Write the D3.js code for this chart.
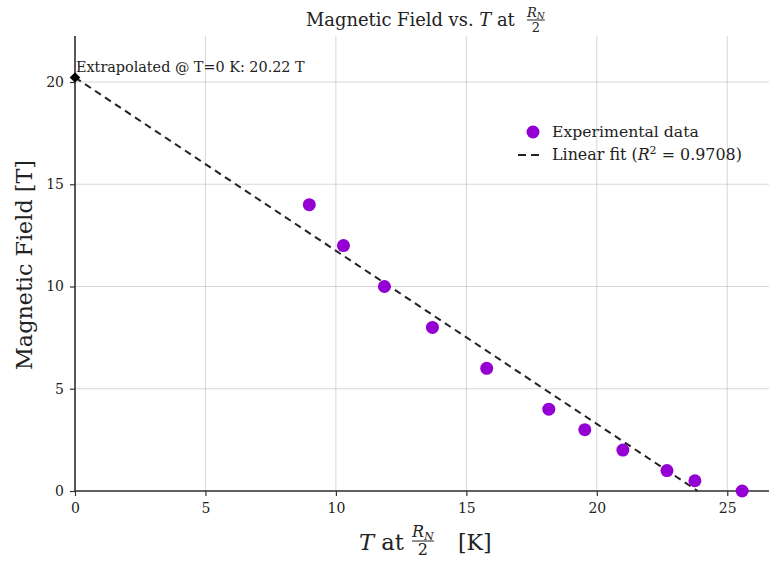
<!DOCTYPE html>
<html lang="en">
<head>
<meta charset="utf-8">
<title>Magnetic Field vs T</title>
<script src="https://cdn.jsdelivr.net/npm/d3@7"></script>
<style>
  body { margin: 0; background: #fff; }
  text { font-family: "DejaVu Serif", "Liberation Serif", serif; fill: #222; }
</style>
</head>
<body>
<script>
// measured data
var tempK = [8.98, 10.29, 11.86, 13.7, 15.78, 18.16, 19.54, 21.0, 22.69, 23.76, 25.57];
var fieldT = [14, 12, 10, 8, 6, 4, 3, 2, 1, 0.5, 0];
var xTicks = [0, 5, 10, 15, 20, 25];
var yTicks = [0, 5, 10, 15, 20];
var fitIntercept = 20.22;
var fitZero = 23.87;   // T where the fit line reaches 0
var fitR2 = "0.9708";

var width = 770, height = 563;
var margin = {top: 36, right: 1, bottom: 72, left: 75};

var svg = d3.select("body").append("svg")
    .attr("width", width)
    .attr("height", height);

var x = d3.scaleLinear().domain([0, 26.6]).range([margin.left, width - margin.right]);
var y = d3.scaleLinear().domain([0, 22.25]).range([height - margin.bottom, margin.top]);

// squeeze/stretch a text element to a measured width
function fitWidth(t, w) {
  var cur = t.node().getComputedTextLength();
  var fs = parseFloat(t.attr("font-size"));
  t.attr("font-size", fs * w / cur);
  return t;
}

// grid
svg.append("g").selectAll("line")
    .data(xTicks).enter().append("line")
    .attr("x1", d => x(d)).attr("x2", d => x(d))
    .attr("y1", y(0)).attr("y2", margin.top)
    .attr("stroke", "#b0b0b0").attr("stroke-opacity", 0.5).attr("stroke-width", 1);
svg.append("g").selectAll("line")
    .data(yTicks).enter().append("line")
    .attr("x1", x(0)).attr("x2", width - margin.right)
    .attr("y1", d => y(d)).attr("y2", d => y(d))
    .attr("stroke", "#b0b0b0").attr("stroke-opacity", 0.5).attr("stroke-width", 1);

// axes
var xAxis = svg.append("g")
    .attr("transform", "translate(0," + y(0) + ")")
    .call(d3.axisBottom(x).tickValues(xTicks).tickSize(5).tickPadding(7));
var yAxis = svg.append("g")
    .attr("transform", "translate(" + x(0) + ",0)")
    .call(d3.axisLeft(y).tickValues(yTicks).tickSize(5).tickPadding(6));
[xAxis, yAxis].forEach(function (a) {
  a.select(".domain").attr("stroke", "#333").attr("stroke-width", 1.6);
  a.selectAll(".tick line").attr("stroke", "#333").attr("stroke-width", 1.2);
  a.selectAll(".tick text").attr("font-size", 14).attr("fill", "#222")
    .style("font-family", '"DejaVu Serif", serif');
});
xAxis.select(".domain").attr("d", "M" + x(0) + ",0H" + (width - margin.right));
yAxis.select(".domain").attr("d", "M0," + y(0) + "V" + margin.top);

// fit line
svg.append("line")
    .attr("x1", x(0)).attr("y1", y(fitIntercept))
    .attr("x2", x(fitZero)).attr("y2", y(0))
    .attr("stroke", "#222").attr("stroke-width", 2)
    .attr("stroke-dasharray", "7,5");

// data points
svg.append("g").selectAll("circle")
    .data(tempK).enter().append("circle")
    .attr("cx", d => x(d))
    .attr("cy", (d, i) => y(fieldT[i]))
    .attr("r", 6.5)
    .attr("fill", "#9400d3");

// extrapolated marker
svg.append("path")
    .attr("d", d3.symbol(d3.symbolSquare, 56))
    .attr("transform", "translate(" + x(0) + "," + y(fitIntercept) + ") rotate(45)")
    .attr("fill", "#000");
fitWidth(svg.append("text")
    .attr("x", x(0) + 1).attr("y", y(fitIntercept) - 6)
    .attr("font-size", 14)
    .text("Extrapolated @ T=0 K: " + fitIntercept.toFixed(2) + " T"), 229);

// fraction R_N over 2
function fraction(g, x0, yBar, size) {
  var num = g.append("text").attr("x", x0).attr("y", yBar - size * 0.22)
      .attr("font-size", size).attr("font-style", "italic");
  num.append("tspan").text("R");
  num.append("tspan").attr("font-size", size * 0.7).attr("dy", size * 0.15).text("N");
  var w = num.node().getComputedTextLength();
  g.append("line").attr("x1", x0).attr("x2", x0 + w)
      .attr("y1", yBar).attr("y2", yBar)
      .attr("stroke", "#222").attr("stroke-width", Math.max(1, size * 0.06));
  g.append("text").attr("x", x0 + w / 2).attr("y", yBar + size * 0.9)
      .attr("text-anchor", "middle").attr("font-size", size).text("2");
  return w;
}

// title
var title = svg.append("g");
var tt = title.append("text").attr("x", 306).attr("y", 26).attr("font-size", 17);
tt.append("tspan").text("Magnetic Field vs. ");
tt.append("tspan").attr("font-style", "italic").text("T");
tt.append("tspan").text(" at");
fitWidth(tt, 209);
fraction(title, 527, 20, 13);

// x label
var xl = svg.append("g");
var xt = xl.append("text").attr("x", 359).attr("y", 550).attr("font-size", 23);
xt.append("tspan").attr("font-style", "italic").text("T");
xt.append("tspan").text(" at");
fitWidth(xt, 45);
fraction(xl, 412, 541, 16);
xl.append("text").attr("x", 458).attr("y", 550)
    .attr("font-size", 22).text("[K]");

// y label
fitWidth(svg.append("text")
    .attr("transform", "translate(32,265) rotate(-90)")
    .attr("text-anchor", "middle")
    .attr("font-size", 22)
    .text("Magnetic Field [T]"), 210);

// legend
var lg = svg.append("g").attr("transform", "translate(518,132)");
lg.append("circle").attr("cx", 15).attr("cy", 0).attr("r", 6.5).attr("fill", "#9400d3");
fitWidth(lg.append("text").attr("x", 34).attr("y", 5).attr("font-size", 16)
    .text("Experimental data"), 147);
lg.append("line").attr("x1", 0).attr("x2", 25).attr("y1", 23).attr("y2", 23)
    .attr("stroke", "#222").attr("stroke-width", 2).attr("stroke-dasharray", "8,5");
var lt = lg.append("text").attr("x", 34).attr("y", 28).attr("font-size", 16);
lt.append("tspan").text("Linear fit (");
lt.append("tspan").attr("font-style", "italic").text("R");
lt.append("tspan").attr("font-size", 11).attr("dy", -6).text("2");
lt.append("tspan").attr("dy", 6).text(" = " + fitR2 + ")");
fitWidth(lt, 190);
</script>
</body>
</html>
